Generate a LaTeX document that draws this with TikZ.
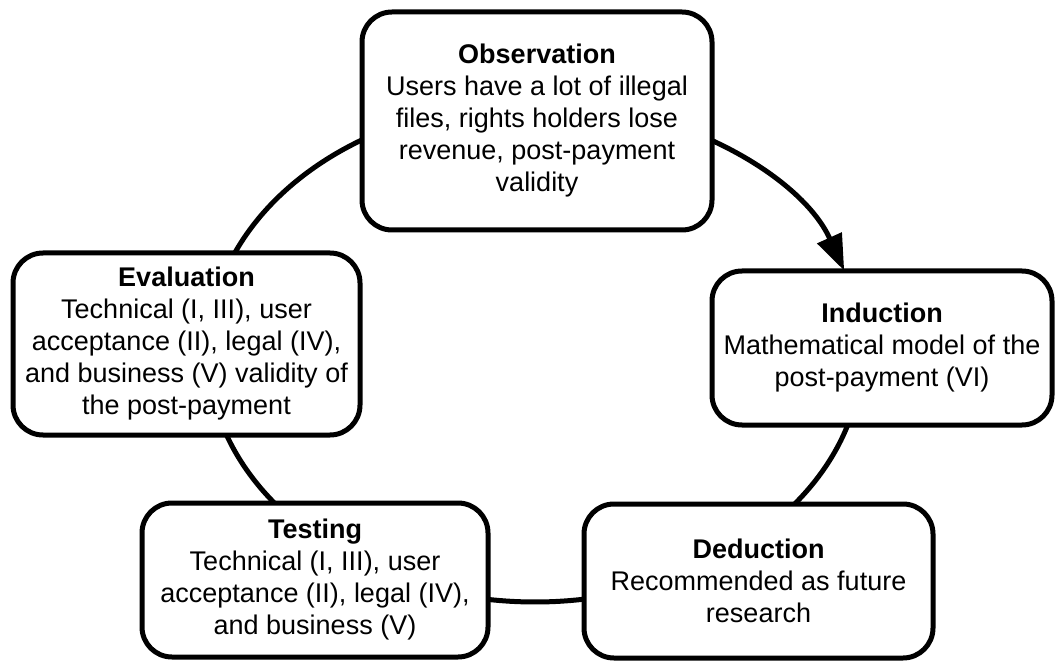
\documentclass[tikz,border=0pt]{standalone}
\usepackage{fontspec}
\setmainfont{Liberation Sans}
\usetikzlibrary{arrows.meta,backgrounds,calc}
\begin{document}
\begin{tikzpicture}[x=1pt,y=1pt,
  stage/.style={draw=black, line width=5pt, fill=white, rounded corners=30pt,
    align=center, inner sep=0pt, font=\fontsize{27}{32}\selectfont},
  cyc/.style={draw=black, line width=5pt}]
\useasboundingbox (0,0) rectangle (1057,662);
% centre of the elliptical cycle
\coordinate (c) at (535,310);

\node[stage, minimum width=350pt, minimum height=218pt] (obs) at (537,541)
  {\textbf{Observation}\\Users have a lot of illegal\\files, rights holders lose\\revenue, post-payment\\validity};
\node[stage, minimum width=340pt, minimum height=154pt] (ind) at (882,314)
  {\textbf{Induction}\\Mathematical model of the\\post-payment (VI)};
\node[stage, minimum width=349pt, minimum height=154pt] (ded) at (758.5,81)
  {\textbf{Deduction}\\Recommended as future\\research};
\node[stage, minimum width=346pt, minimum height=154pt] (tst) at (315,82)
  {\textbf{Testing}\\Technical (I, III), user\\acceptance (II), legal (IV),\\and business (V)};
\node[stage, minimum width=347pt, minimum height=182pt] (evl) at (186.5,318)
  {\textbf{Evaluation}\\Technical (I, III), user\\acceptance (II), legal (IV),\\and business (V) validity of\\the post-payment};

\begin{scope}[on background layer]
  % Observation -> Induction (the only segment with a tip)
  \draw[cyc, -{Triangle[length=36pt,width=26pt]}] ($(c)+(80:327 and 250)$)
    arc[start angle=80, end angle=19, x radius=327, y radius=250];
  % Induction -> Deduction
  \draw[cyc] ($(c)+(0:327 and 250)$)
    arc[start angle=0, end angle=-60, x radius=327, y radius=250];
  % Deduction -> Testing
  \draw[cyc] ($(c)+(-60:327 and 250)$)
    arc[start angle=-60, end angle=-120, x radius=327, y radius=250];
  % Testing -> Evaluation
  \draw[cyc] ($(c)+(-120:327 and 250)$)
    arc[start angle=-120, end angle=-180, x radius=327, y radius=250];
  % Evaluation -> Observation
  \draw[cyc] ($(c)+(180:327 and 250)$)
    arc[start angle=180, end angle=85, x radius=327, y radius=250];
\end{scope}
\end{tikzpicture}
\end{document}
